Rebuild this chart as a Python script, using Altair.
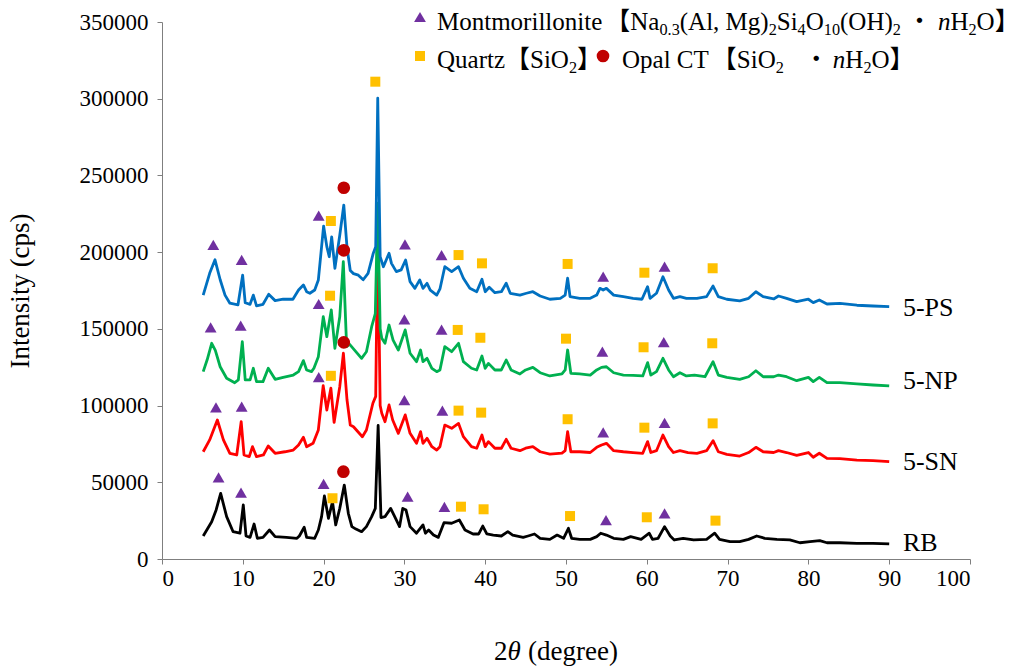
import altair as alt
import pandas as pd

FONT = "Liberation Serif, Noto Sans CJK JP, serif"
AXFONT = "Liberation Serif"

# ---------------- data (2theta in degrees, intensity in cps) ----------------
ps_x = [5.1, 5.9, 6.56, 7.2, 7.8, 8.4, 9.4, 9.98, 10.3, 10.9, 11.3, 11.7, 12.5, 13.2, 14.0, 15.0, 16.2,
        16.9, 17.5, 17.9, 18.3, 18.9, 19.35, 20.0, 20.4, 20.7, 21.0, 21.4, 22.0, 22.5, 22.9, 23.3, 23.7,
        24.3, 24.9, 25.5, 26.15, 26.45, 26.7, 27.0, 27.4, 28.1, 28.4, 29.0, 29.6, 30.15, 30.7, 31.3, 31.9,
        32.3, 32.8, 33.2, 34.0, 34.4, 35.0, 35.85, 36.7, 37.3, 38.1, 38.95, 39.6, 40.0, 40.5, 41.2, 42.0,
        42.6, 43.1, 44.3, 45.1, 45.9, 46.8, 48.0, 49.3, 49.9, 50.2, 50.5, 51.7, 53.0, 53.8, 54.2, 54.6,
        55.0, 55.9, 57.1, 58.3, 59.4, 60.1, 60.4, 61.2, 62.0, 62.7, 63.3, 64.1, 64.9, 66.2, 67.4, 68.2,
        68.85, 69.9, 71.5, 72.6, 73.5, 74.4, 75.7, 76.3, 77.3, 78.55, 80.0, 80.6, 81.35, 82.3, 83.9, 86.0,
        88.0, 90.0]
ps_y = [172000, 186200, 195000, 182000, 172000, 166700, 165600, 185000, 167000, 166000, 172000, 165000,
        166000, 172500, 168400, 169300, 169300, 175300, 178600, 174200, 173200, 175300, 181900, 217000,
        203600, 197000, 210000, 189500, 211000, 230700, 203000, 188000, 186000, 185000, 182000, 186200,
        199300, 203600, 300300, 197000, 190500, 199300, 192700, 187300, 188400, 194900, 180800, 176400,
        181900, 176400, 179700, 175300, 172000, 176000, 190500, 187300, 190500, 183000, 176400, 174200,
        182300, 174200, 177100, 173600, 174200, 179700, 173200, 172000, 173200, 174200, 171400, 169300,
        169900, 172000, 183000, 171000, 169900, 169900, 172000, 176400, 175300, 176400, 172000, 171000,
        169900, 169300, 177500, 169900, 173200, 184000, 175300, 169900, 171000, 169900, 169900, 171000,
        177900, 171000, 169300, 168200, 169900, 174200, 171000, 169500, 171400, 169900, 167700, 169300,
        167100, 168800, 166200, 166600, 165400, 164900, 164500]

np_x = [5.1, 5.6, 6.15, 6.6, 7.2, 8.0, 9.0, 9.45, 9.94, 10.3, 10.9, 11.3, 11.7, 12.5, 13.15, 14.0, 15.0,
        16.25, 16.9, 17.5, 17.9, 18.5, 18.8, 19.35, 19.96, 20.4, 20.95, 21.4, 22.0, 22.44, 22.85, 23.2,
        23.7, 24.7, 25.3, 25.95, 26.4, 26.7, 27.0, 27.2, 27.6, 28.1, 28.6, 29.25, 30.1, 30.7, 31.5, 32.0,
        32.3, 32.8, 33.4, 34.0, 34.4, 35.0, 35.85, 36.7, 37.3, 38.3, 38.95, 39.6, 40.0, 40.4, 41.2, 42.0,
        42.6, 43.2, 44.3, 45.0, 45.9, 46.8, 48.0, 49.5, 49.9, 50.2, 50.6, 51.7, 53.0, 53.8, 54.4, 55.0,
        55.9, 57.1, 58.3, 59.5, 60.1, 60.5, 61.2, 62.0, 62.7, 63.3, 64.1, 64.9, 65.9, 67.2, 68.2, 68.85,
        69.9, 71.5, 72.6, 73.5, 74.4, 75.7, 76.3, 77.3, 78.55, 80.0, 80.6, 81.35, 82.3, 83.9, 86.0, 88.0,
        90.0]
np_y = [122100, 130000, 140600, 136000, 125300, 117800, 114900, 116700, 141600, 116700, 116700, 124300,
        115600, 115600, 124300, 117100, 118400, 119900, 122100, 129300, 123200, 122100, 124300, 131900,
        157900, 144900, 162300, 137300, 157900, 193800, 138400, 140000, 137000, 130800, 135100, 151400,
        160000, 232000, 150000, 143900, 140600, 152500, 142700, 136200, 149300, 134100, 128600, 136200,
        128600, 130800, 124300, 122100, 123200, 138400, 135100, 140600, 128600, 124300, 123200, 132300,
        124300, 127500, 123200, 123200, 129700, 123200, 120600, 123200, 124900, 121400, 119300, 120600,
        123200, 136200, 121000, 120600, 119900, 123200, 124900, 125300, 121400, 119900, 119700, 119300,
        128000, 119900, 122100, 130800, 123200, 118800, 121400, 119300, 119900, 118800, 128600, 119900,
        118400, 117100, 118800, 122700, 118800, 118800, 119900, 118800, 116200, 118400, 115600, 118400,
        114900, 114900, 114100, 113400, 112800]

sn_x = [5.1, 5.9, 6.85, 7.6, 8.4, 9.25, 9.8, 10.15, 10.8, 11.2, 11.7, 12.55, 13.15, 14.0, 15.2, 16.25,
        16.9, 17.5, 17.9, 18.7, 19.35, 19.95, 20.4, 20.9, 21.3, 22.0, 22.45, 22.9, 23.3, 23.7, 24.8, 25.3,
        26.1, 26.45, 26.7, 27.0, 27.2, 27.6, 28.1, 28.55, 29.25, 30.1, 30.7, 31.5, 32.0, 32.3, 32.8, 33.4,
        34.0, 34.4, 35.0, 35.85, 36.7, 37.3, 38.3, 38.95, 39.6, 40.0, 40.4, 41.2, 42.0, 42.6, 43.2, 44.3,
        45.0, 45.9, 46.8, 48.0, 49.5, 49.9, 50.2, 50.6, 51.7, 53.0, 53.8, 54.4, 55.0, 55.9, 57.1, 58.3,
        59.5, 60.1, 60.5, 61.2, 62.0, 62.7, 63.3, 64.1, 65.1, 66.2, 67.4, 68.2, 68.85, 69.9, 71.5, 72.6,
        73.5, 74.4, 75.7, 76.3, 77.3, 78.55, 80.0, 80.6, 81.35, 82.3, 83.9, 86.0, 88.0, 90.0]
sn_y = [69900, 77600, 90600, 77600, 68900, 67800, 89500, 67800, 66700, 73200, 66700, 67800, 73700, 68900,
        69900, 71000, 74300, 79300, 73200, 75400, 84100, 113000, 97100, 111300, 89000, 112300, 134100,
        103600, 87300, 86200, 79700, 84100, 101500, 106000, 215000, 100000, 95000, 89500, 100400, 90600,
        81900, 93900, 81900, 75400, 83000, 75400, 78700, 73200, 71000, 73200, 87300, 85200, 88400, 79700,
        73200, 72200, 80800, 73200, 76500, 72200, 72200, 78000, 72200, 70600, 72200, 73200, 69900, 68400,
        69000, 70600, 83000, 69900, 69900, 69400, 72800, 74300, 75400, 70600, 69900, 69400, 68900, 76500,
        69400, 70600, 80800, 73200, 69400, 70600, 69400, 68900, 70600, 77100, 69900, 68200, 67100, 69400,
        72800, 69900, 69400, 70600, 69400, 67600, 69400, 66300, 68900, 65600, 65400, 64500, 64100, 63400]

rb_x = [5.1, 6.15, 6.7, 7.26, 8.0, 8.8, 9.65, 10.06, 10.4, 10.9, 11.4, 11.8, 12.5, 13.3, 14.0, 15.4, 16.7,
        17.0, 17.6, 17.9, 18.9, 19.35, 19.75, 20.1, 20.6, 21.1, 21.5, 22.0, 22.56, 23.06, 23.5, 24.0, 24.7,
        25.3, 25.95, 26.4, 26.75, 27.1, 27.6, 28.3, 28.8, 29.4, 29.8, 30.2, 30.7, 31.5, 32.3, 32.6, 33.0,
        33.6, 34.2, 34.9, 35.85, 36.8, 37.5, 38.5, 39.2, 39.7, 40.2, 41.0, 42.0, 42.8, 43.4, 44.7, 45.3,
        46.1, 46.8, 48.0, 48.9, 49.7, 50.3, 50.7, 51.7, 53.0, 53.8, 54.3, 55.0, 55.9, 57.1, 58.0, 59.3,
        60.3, 60.7, 61.4, 62.2, 62.9, 63.4, 64.5, 65.8, 67.4, 68.4, 69.0, 70.3, 71.5, 72.6, 73.6, 74.6,
        76.1, 77.7, 78.95, 80.2, 81.4, 82.3, 83.9, 86.0, 88.0, 90.0]
rb_y = [15000, 24300, 32000, 42800, 27600, 17800, 16800, 35200, 15000, 14100, 22800, 13500, 14100, 18900,
        14600, 14100, 13500, 15000, 20700, 14100, 13500, 18900, 27600, 41100, 26500, 37300, 22200, 33000,
        48200, 29800, 21100, 19500, 17800, 21100, 27600, 33000, 87000, 27000, 27600, 33000, 27600, 21100,
        33000, 31900, 21100, 16800, 22200, 16800, 18900, 15600, 14100, 23700, 23300, 25400, 18900, 16300,
        16300, 21500, 16300, 15600, 15000, 17800, 15600, 14100, 15000, 16300, 13500, 12800, 15600, 13500,
        20000, 13500, 12800, 12800, 14600, 16800, 15600, 13500, 12800, 14600, 12800, 16800, 12800, 13500,
        21100, 15000, 12400, 13500, 12400, 12800, 16800, 12800, 11300, 11300, 12800, 15000, 13500, 12800,
        12400, 10600, 11300, 12000, 10600, 10600, 10200, 10200, 9800]

# phase markers
tri_x = [6.35, 9.86, 19.39, 30.07, 34.6, 54.6, 62.2,
         6.02, 9.74, 19.39, 30.0, 34.6, 54.5, 62.1,
         6.68, 9.86, 19.4, 30.0, 34.7, 54.6, 62.2,
         7.0, 9.78, 20.0, 30.4, 34.95, 54.95, 62.2]
tri_y = [204700, 194900, 223800, 205100, 198100, 184000, 190500,
         151000, 152100, 166200, 156200, 149500, 135100, 141400,
         98900, 99300, 118500, 103600, 96700, 82600, 88800,
         53200, 43200, 48900, 40600, 33900, 25400, 29800]
sq_x = [20.9, 26.4, 36.7, 39.6, 50.2, 59.7, 68.15,
        20.8, 36.6, 39.4, 50.0, 59.6, 68.1,
        20.9, 36.7, 39.5, 50.2, 59.7, 68.15,
        21.1, 37.0, 39.8, 50.5, 60.0, 68.5]
sq_y = [220300, 311100, 198100, 192700, 192300, 186600, 189500,
        171600, 149300, 144200, 143600, 138000, 140600,
        119400, 96700, 95400, 91100, 85600, 88400,
        39600, 34100, 32400, 28000, 27200, 25000]
ci_x = [22.5, 22.5, 22.5, 22.45]
ci_y = [242000, 201200, 141200, 56900]

label_text = ["5-PS", "5-NP", "5-SN", "RB"]
label_x = [91.7, 91.7, 91.7, 91.7]
label_y = [163600, 116000, 63200, 10400]

# ---------------- scales / axes ----------------
xscale = alt.Scale(domain=[0, 100], nice=False, zero=False)
yscale = alt.Scale(domain=[0, 350000], nice=False)
AX = dict(labelFont=AXFONT, labelFontSize=23, labelColor="black", tickColor="#7f7f7f",
          domainColor="#7f7f7f", tickSize=5, grid=False, titleFont=AXFONT, titleFontSize=27,
          titleFontWeight="normal", titleColor="black")
xaxis = alt.Axis(values=list(range(0, 101, 10)), format="d", title="", labelPadding=3, **AX)
yaxis = alt.Axis(values=list(range(0, 350001, 50000)), format="d", title="Intensity (cps)",
                 titlePadding=45, labelPadding=9, **AX)
X = alt.X("x:Q", scale=xscale, axis=xaxis)
Y = alt.Y("y:Q", scale=yscale, axis=yaxis)


def line(xs, ys, color):
    df = pd.DataFrame({"x": xs, "y": ys})
    return alt.Chart(df).mark_line(color=color, strokeWidth=2.8, strokeJoin="round").encode(x=X, y=Y)


def pts(xs, ys, shape, color, size):
    df = pd.DataFrame({"x": xs, "y": ys})
    return alt.Chart(df).mark_point(shape=shape, filled=True, color=color, size=size, opacity=1,
                                    strokeWidth=0).encode(x=X, y=Y)


layers = [
    line(rb_x, rb_y, "#000000"),
    line(sn_x, sn_y, "#FF0000"),
    line(np_x, np_y, "#00B050"),
    line(ps_x, ps_y, "#0070C0"),
    pts(tri_x, tri_y, "triangle-up", "#7030A0", 140),
    pts(sq_x, sq_y, "square", "#FFC000", 100),
    pts(ci_x, ci_y, "circle", "#C00000", 160),
]

lab_df = pd.DataFrame({"x": label_x, "y": label_y, "t": label_text})
layers.append(alt.Chart(lab_df).mark_text(font=FONT, fontSize=26, align="left", baseline="middle",
                                          color="black").encode(x=X, y=Y, text="t:N"))

# ---------------- text pieces (legend with subscripts, x-axis title) ----------------
W = {' ': 250, '(': 333, ')': 333, ',': 250, '.': 250, 'A': 722, 'C': 667, 'H': 722, 'M': 889,
     'N': 722, 'O': 722, 'Q': 722, 'S': 556, 'T': 611, 'P': 556, 'a': 444, 'd': 500, 'e': 444,
     'g': 500, 'i': 278, 'l': 278, 'm': 778, 'n': 500, 'o': 500, 'p': 500, 'r': 333, 't': 278,
     'u': 500, 'z': 444, 'θ': 500}
for d in "0123456789":
    W[d] = 500


def tw(s, size):
    return sum(W.get(c, 1000) for c in s) / 1000.0 * size


def piece(txt, x, y, size, style):
    return alt.Chart(alt.Data(values=[{"k": 1}])).mark_text(
        font=FONT, fontSize=size, fontStyle=style, align="left", baseline="alphabetic",
        color="black").encode(x=alt.value(x), y=alt.value(y), text=alt.value(txt))


def seg_width(segs, fs):
    w = 0
    for seg in segs:
        if seg[1] == "gap":
            w += seg[2]
        else:
            w += tw(seg[0], fs * 0.65 if seg[1] == "s" else fs)
    return w


def text_row(segs, x0, base, fs):
    out = []
    x = x0
    for seg in segs:
        txt, kind = seg[0], seg[1]
        if kind == "gap":
            x += seg[2]
            continue
        size = fs * 0.65 if kind == "s" else fs
        y = base + (fs * 0.2 if kind == "s" else 0)
        style = "italic" if kind == "i" else "normal"
        out.append(piece(txt, x, y, size, style))
        x += tw(txt, size)
    return out


LFS = 25
row1 = [("Montmorillonite", "n"), ("", "gap", 3), ("【", "n"), ("Na", "n"), ("0.3", "s"),
        ("(Al, Mg)", "n"), ("2", "s"), ("Si", "n"), ("4", "s"), ("O", "n"), ("10", "s"), ("(OH)", "n"),
        ("2", "s"), ("", "gap", 6), ("・", "n"), ("", "gap", 6), ("n", "i"), ("H", "n"), ("2", "s"),
        ("O", "n"), ("】", "n")]
row2a = [("Quartz", "n"), ("【", "n"), ("SiO", "n"), ("2", "s"), ("】", "n")]
row2b = [("Opal CT", "n"), ("", "gap", 3), ("【", "n"), ("SiO", "n"), ("2", "s"), ("", "gap", 20),
         ("・", "n"), ("", "gap", 4), ("n", "i"), ("H", "n"), ("2", "s"), ("O", "n"), ("】", "n")]
layers += text_row(row1, 275, 8, LFS)
layers += text_row(row2a, 275, 46, LFS)
layers += text_row(row2b, 460, 46, LFS)

# x-axis title "2θ (degree)" with italic theta
TFS = 27
xt = [("2", "n"), ("θ", "i"), ("", "gap", 7), ("(degree)", "n")]
layers += text_row(xt, 394 - seg_width(xt, TFS) / 2, 638, TFS)


def legsym(shape, color, size, px, py):
    return alt.Chart(alt.Data(values=[{"k": 1}])).mark_point(
        shape=shape, filled=True, color=color, size=size, opacity=1, strokeWidth=0
    ).encode(x=alt.value(px), y=alt.value(py))


layers += [legsym("triangle-up", "#7030A0", 140, 258, -5),
           legsym("square", "#FFC000", 100, 258, 34),
           legsym("circle", "#C00000", 160, 441, 34)]

chart = alt.layer(*layers).properties(
    width=808, height=537,
    padding={"left": 162, "top": 22, "right": 66, "bottom": 109},
    autosize=alt.AutoSizeParams(type="none"),
    background="white",
).configure_view(stroke=None).configure_axis(
    labelFont=AXFONT, titleFont=AXFONT, labelFontSize=23, titleFontSize=27
)

chart.save("out.html", embed_options={"renderer": "svg", "actions": False})
